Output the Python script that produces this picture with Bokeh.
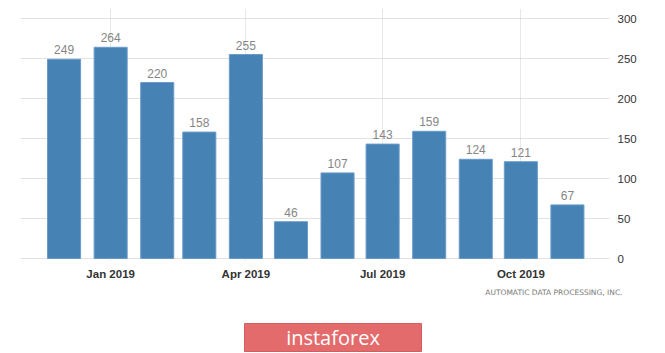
from datetime import datetime
from bokeh.plotting import figure
from bokeh.layouts import column
from bokeh.models import ColumnDataSource, FixedTicker, DatetimeTickFormatter, Range1d, Label, Title
from bokeh.core.properties import value
from bokeh.embed import file_html
from bokeh.resources import INLINE

months = ["2018-12-01", "2019-01-01", "2019-02-01", "2019-03-01", "2019-04-01", "2019-05-01",
          "2019-06-01", "2019-07-01", "2019-08-01", "2019-09-01", "2019-10-01", "2019-11-01"]
values = [249, 264, 220, 158, 255, 46, 107, 143, 159, 124, 121, 67]
tick_dates = ["2019-01-01", "2019-04-01", "2019-07-01", "2019-10-01"]
y_ticks = [0, 50, 100, 150, 200, 250, 300]
source_text = "AUTOMATIC DATA PROCESSING, INC."
brand_text = "instaforex"

DAY = 86400000
dates = [datetime.strptime(m, "%Y-%m-%d") for m in months]
src = ColumnDataSource(dict(x=dates, top=values, label=[str(v) for v in values]))

p = figure(width=665, height=300, x_axis_type="datetime", y_axis_location="right",
           output_backend="svg", toolbar_location=None,
           min_border_left=20, min_border_right=56, min_border_top=8, min_border_bottom=40)
p.x_range = Range1d(datetime(2018, 11, 2).timestamp() * 1000, datetime(2019, 11, 29).timestamp() * 1000)
p.y_range = Range1d(-2.5, 312.5)
p.outline_line_color = None
p.background_fill_color = "white"
p.border_fill_color = "white"

p.vbar(x="x", top="top", width=22 * DAY, bottom=0, source=src,
       fill_color="#4682B4", line_color="#6A9CCB", line_width=1)
p.text(x="x", y="top", text="label", source=src, text_align="center", text_baseline="bottom",
       y_offset=-5, text_color="#858585", text_font_size="12px", text_font=value("Liberation Sans"))

tick_ms = [datetime.strptime(t, "%Y-%m-%d").timestamp() * 1000 for t in tick_dates]
p.xaxis.ticker = FixedTicker(ticks=tick_ms)
p.xaxis.formatter = DatetimeTickFormatter(months="%b %Y", days="%b %Y", years="%b %Y")
p.xaxis.axis_line_color = None
p.xaxis.major_tick_line_color = None
p.xaxis.minor_tick_line_color = None
p.xaxis.major_label_standoff = 1
p.xaxis.major_label_text_font = "Liberation Sans"
p.xaxis.major_label_text_font_size = "11.5px"
p.xaxis.major_label_text_font_style = "bold"
p.xaxis.major_label_text_color = "#333333"

p.yaxis.ticker = FixedTicker(ticks=y_ticks)
p.yaxis.axis_line_color = None
p.yaxis.major_tick_line_color = None
p.yaxis.minor_tick_line_color = None
p.yaxis.major_label_standoff = 2
p.yaxis.major_label_text_font = "Liberation Sans"
p.yaxis.major_label_text_font_size = "11.5px"
p.yaxis.major_label_text_color = "#333333"

p.xgrid.grid_line_color = "#d0d0d0"
p.xgrid.grid_line_dash = "1 1"
p.ygrid.grid_line_color = "#c4c4c4"
p.ygrid.grid_line_dash = "1 1"
p.xgrid.ticker = FixedTicker(ticks=tick_ms)
p.ygrid.ticker = FixedTicker(ticks=y_ticks)

p.add_layout(Title(text=source_text, align="right", offset=-13, standoff=7,
                   text_font="DejaVu Sans", text_font_size="7.5px", text_font_style="normal",
                   text_color="#7a7a7a"), "below")

# footer: frame spans x pixels 20..609 (aligned with chart frame), y pixels 300..353
f = figure(width=665, height=53, output_backend="svg", toolbar_location=None,
           x_range=Range1d(20, 609), y_range=Range1d(0, 53),
           min_border_left=20, min_border_right=56, min_border_top=0, min_border_bottom=0)
f.axis.visible = False
f.grid.visible = False
f.outline_line_color = None
f.border_fill_color = "white"
f.background_fill_color = "white"

f.quad(left=[244], right=[421], bottom=[2], top=[30], fill_color="#E46B6C", line_color="#D35E5F")
f.add_layout(Label(x=332.5, y=16, text=brand_text, text_align="center", text_baseline="middle",
                   text_font="Open Sans", text_font_size="20px", text_color="white"))

layout = column(p, f, spacing=0)
open("out.html", "w").write(file_html(layout, INLINE))
